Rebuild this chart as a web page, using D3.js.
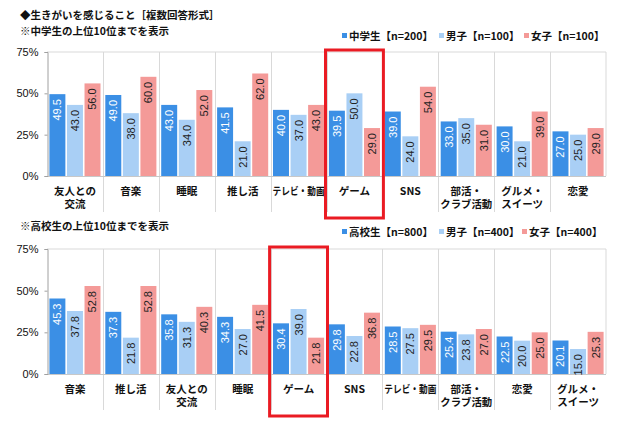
<!DOCTYPE html>
<html><head><meta charset="utf-8">
<script src="https://cdn.jsdelivr.net/npm/d3@7"></script>
<style>body{margin:0;background:#fff} svg{display:block}</style>
</head><body><svg id="c" width="620" height="421"></svg>
<script>
const titleText = "◆生きがいを感じること［複数回答形式］";
const note1 = "※中学生の上位10位までを表示";
const note2 = "※高校生の上位10位までを表示";

const cats1 = ["友人との\n交流","音楽","睡眠","推し活","テレビ・動画","ゲーム","SNS","部活・\nクラブ活動","グルメ・\nスイーツ","恋愛"];
const juniorAll = [49.5,49.0,43.0,41.5,40.0,39.5,39.0,33.0,30.0,27.0];
const juniorBoys = [43.0,38.0,34.0,21.0,37.0,50.0,24.0,35.0,21.0,25.0];
const juniorGirls = [56.0,60.0,52.0,62.0,43.0,29.0,54.0,31.0,39.0,29.0];
const legend1 = ["中学生【n=200】","男子【n=100】","女子【n=100】"];

const cats2 = ["音楽","推し活","友人との\n交流","睡眠","ゲーム","SNS","テレビ・動画","部活・\nクラブ活動","恋愛","グルメ・\nスイーツ"];
const highAll = [45.3,37.3,35.8,34.3,30.4,29.8,28.5,25.4,22.5,20.1];
const highBoys = [37.8,21.8,31.3,27.0,39.0,22.8,27.5,23.8,20.0,15.0];
const highGirls = [52.8,52.8,40.3,41.5,21.8,36.8,29.5,27.0,25.0,25.3];
const legend2 = ["高校生【n=800】","男子【n=400】","女子【n=400】"];

const yTicks = [0,25,50,75];
const highlightCat = "ゲーム";

const svg = d3.select("#c");
const jp = "'Noto Sans CJK JP','Noto Sans',sans-serif";
const num = "'Liberation Sans',Arial,sans-serif";
const colors = ["#3b8fe5","#a9cff5","#f49a98"];
const valColors = ["#ffffff","#222222","#222222"];

svg.append("text").attr("x",20).attr("y",19).attr("font-family",jp).attr("font-weight","bold")
  .attr("font-size",10.5).attr("fill","#111").text(titleText);

function drawChart(cfg){
  const {top,bottom,cats,series,legend,note,noteY,legendY,legendX} = cfg;
  const x = d3.scaleBand().domain(cats).range([47,606]);
  const y = d3.scaleLinear().domain([0,75]).range([bottom,top]);
  const xs = d3.scaleBand().domain([0,1,2]).range([2.4,x.bandwidth()-2.4]).paddingInner(0.09);
  const g = svg.append("g");

  g.append("text").attr("x",20).attr("y",noteY).attr("font-family",jp).attr("font-weight","bold")
    .attr("font-size",10.5).attr("fill","#111").text(note);

  // frame lines
  g.append("line").attr("x1",47).attr("x2",606).attr("y1",y(75)).attr("y2",y(75)).attr("stroke","#d9d9d9");
  g.append("line").attr("x1",606).attr("x2",606).attr("y1",y(75)).attr("y2",y(0)).attr("stroke","#d9d9d9");
  g.selectAll("line.sep").data(cats.slice(1)).join("line").attr("class","sep")
    .attr("x1",d=>Math.round(x(d))+0.5).attr("x2",d=>Math.round(x(d))+0.5)
    .attr("y1",y(75)).attr("y2",bottom+36).attr("stroke","#d9d9d9");
  g.append("line").attr("x1",47).attr("x2",606).attr("y1",y(0)+0.5).attr("y2",y(0)+0.5).attr("stroke","#c8c8c8");

  // y axis
  const ax = g.append("g").attr("transform","translate(47.5,0)")
    .call(d3.axisLeft(y).tickValues(yTicks).tickSize(3).tickPadding(6).tickFormat(d=>d+"%"));
  ax.select(".domain").attr("stroke","#a0a0a0");
  ax.selectAll(".tick line").attr("stroke","#a0a0a0");
  ax.selectAll("text").attr("font-family",num).attr("font-size",11).attr("fill","#111");

  // bars
  series.forEach((vals,si)=>{
    const bars = g.append("g");
    bars.selectAll("rect").data(vals).join("rect")
      .attr("x",(d,i)=>x(cats[i])+xs(si)).attr("width",xs.bandwidth())
      .attr("y",d=>y(d)).attr("height",d=>y(0)-y(d)).attr("fill",colors[si]);
    bars.selectAll("text").data(vals).join("text")
      .attr("transform",(d,i)=>`translate(${x(cats[i])+xs(si)+xs.bandwidth()/2},${y(d)+5}) rotate(-90)`)
      .attr("text-anchor","end").attr("dy","0.36em")
      .attr("font-family",num).attr("font-size",11).attr("fill",valColors[si])
      .text(d=>d.toFixed(1));
  });

  // category labels
  const cl = g.selectAll("text.cat").data(cats).join("text").attr("class","cat")
    .attr("text-anchor","middle").attr("font-family",jp).attr("font-weight","bold")
    .attr("font-size",10.5).attr("fill","#111")
    .attr("transform",d=>`translate(${x(d)+x.bandwidth()/2},${bottom+18.5})`);
  cl.each(function(d){
    d3.select(this).selectAll("tspan").data(d.split("\n")).join("tspan")
      .attr("x",0).attr("y",(t,i)=>i*13.5).text(t=>t)
      .each(function(){
        const w = this.getComputedTextLength();
        if (w > 52) d3.select(this).attr("textLength",52).attr("lengthAdjust","spacingAndGlyphs");
      });
  });

  // legend
  legend.forEach((name,i)=>{
    g.append("rect").attr("x",legendX[i]).attr("y",legendY-3).attr("width",5).attr("height",5).attr("fill",colors[i]);
    g.append("text").attr("x",legendX[i]+7).attr("y",legendY+4).attr("font-family",jp).attr("font-weight","bold")
      .attr("font-size",10.5).attr("fill","#111").text(name);
  });

  // highlight box
  g.append("rect").attr("x",x(highlightCat)-1).attr("y",top-2)
    .attr("width",x.bandwidth()+2).attr("height",(bottom+42)-(top-2))
    .attr("fill","none").attr("stroke","#ea1b23").attr("stroke-width",3);
}

drawChart({top:52,bottom:176,cats:cats1,series:[juniorAll,juniorBoys,juniorGirls],
  legend:legend1,note:note1,noteY:35,legendY:36,legendX:[342,439,524]});
drawChart({top:249,bottom:374,cats:cats2,series:[highAll,highBoys,highGirls],
  legend:legend2,note:note2,noteY:230,legendY:232,legendX:[342,439,522]});
</script></body></html>
